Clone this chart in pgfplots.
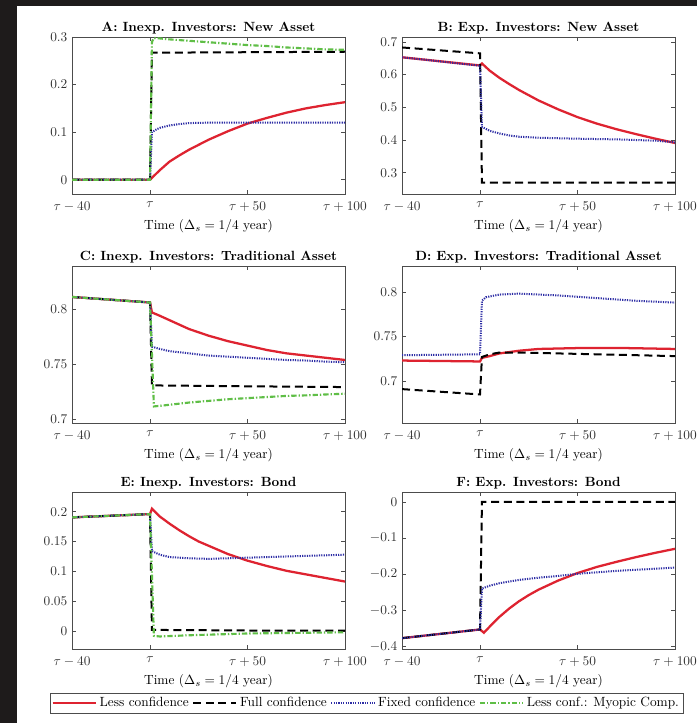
\documentclass[border=0pt]{standalone}
\usepackage{pgfplots}
\pgfplotsset{compat=1.18}

\definecolor{lessred}{RGB}{222,35,48}
\definecolor{fixblue}{RGB}{45,45,165}
\definecolor{myogreen}{RGB}{95,190,70}
\definecolor{frame}{RGB}{30,27,27}

\pgfplotsset{
  panel/.style={
    scale only axis, width=204.75pt, height=117.75pt,
    xmin=-40, xmax=100,
    xtick={-40,0,50,100},
    xticklabels={$\tau-40$,$\tau$,$\tau+50$,$\tau+100$},
    xlabel={Time ($\Delta_s=1/4$ year)},
    title style={font=\bfseries, yshift=-7pt},
    tick align=inside, tick pos=both, major tick length=3pt,
    axis line style={black!70}, every tick/.style={black!70},
    ticklabel style={text=black!80},
    xticklabel style={yshift=-2.5pt},
    yticklabel style={/pgf/number format/fixed, /pgf/number format/precision=2},
    xlabel style={yshift=1pt},
  },
  lc/.style={lessred, line width=1.7pt},
  fc/.style={black, line width=1.5pt, dash pattern=on 6pt off 3.5pt},
  xc/.style={fixblue, line width=1.5pt, dash pattern=on 0.9pt off 0.9pt},
  mc/.style={myogreen, line width=1.6pt, dash pattern=on 4pt off 1.5pt on 1pt off 1.5pt},
}

\begin{document}
\begin{tikzpicture}
\fill[white] (0,0) rectangle (522.75pt,-542.25pt);
\fill[frame] (0,0) rectangle (12.75pt,-542.25pt);
\fill[frame] (0,0) rectangle (522.75pt,-4.5pt);
\useasboundingbox (0,0) rectangle (522.75pt,-542.25pt);

% A
\begin{axis}[panel, at={(54pt,-27.75pt)}, anchor=north west,
  title={A: Inexp. Investors: New Asset},
  ymin=-0.03, ymax=0.3, ytick={0,0.1,0.2,0.3}]
\addplot[lc] coordinates {(-40,0) (0,0) (5,0.02) (10,0.038) (15,0.051) (20,0.063) (30,0.084) (40,0.102) (50,0.118) (60,0.13) (70,0.141) (80,0.15) (90,0.157) (100,0.163)};
\addplot[fc] coordinates {(-40,0) (0,0) (1,0.267) (50,0.268) (100,0.269)};
\addplot[xc] coordinates {(-40,0) (0,0) (1,0.1) (3,0.105) (5,0.109) (10,0.114) (15,0.117) (20,0.119) (30,0.12) (50,0.12) (70,0.12) (100,0.12)};
\addplot[mc] coordinates {(-40,0) (0,0) (1,0.29) (2,0.298) (5,0.297) (10,0.295) (20,0.292) (30,0.289) (40,0.286) (50,0.283) (60,0.281) (70,0.278) (80,0.276) (90,0.274) (100,0.273)};
\end{axis}

% B
\begin{axis}[panel, at={(301.5pt,-27.75pt)}, anchor=north west,
  title={B: Exp. Investors: New Asset},
  ymin=0.235, ymax=0.715, ytick={0.3,0.4,0.5,0.6,0.7}]
\addplot[lc] coordinates {(-40,0.653) (0,0.628) (1,0.634) (5,0.612) (10,0.59) (15,0.571) (20,0.553) (30,0.521) (40,0.494) (50,0.47) (60,0.45) (70,0.433) (80,0.418) (90,0.404) (100,0.391)};
\addplot[fc] coordinates {(-40,0.683) (0,0.665) (1,0.27) (50,0.27) (100,0.27)};
\addplot[xc] coordinates {(-40,0.653) (0,0.627) (1,0.44) (5,0.428) (10,0.42) (15,0.414) (20,0.41) (30,0.407) (50,0.404) (70,0.402) (90,0.398) (100,0.393)};
\end{axis}

% C
\begin{axis}[panel, at={(54pt,-199.5pt)}, anchor=north west,
  title={C: Inexp. Investors: Traditional Asset},
  ymin=0.697, ymax=0.839, ytick={0.7,0.75,0.8}]
\addplot[lc] coordinates {(-40,0.811) (0,0.806) (1,0.797) (5,0.794) (10,0.79) (15,0.786) (20,0.782) (25,0.779) (30,0.776) (40,0.771) (50,0.767) (60,0.763) (70,0.76) (80,0.758) (90,0.756) (100,0.754)};
\addplot[fc] coordinates {(-40,0.811) (0,0.806) (1,0.731) (50,0.7302) (100,0.7295)};
\addplot[xc] coordinates {(-40,0.811) (0,0.806) (1,0.766) (5,0.764) (10,0.762) (20,0.76) (30,0.758) (40,0.757) (50,0.756) (60,0.755) (70,0.754) (80,0.7535) (90,0.7525) (100,0.752)};
\addplot[mc] coordinates {(-40,0.811) (0,0.806) (2,0.712) (5,0.7125) (10,0.7135) (20,0.7155) (30,0.717) (40,0.7185) (50,0.7195) (60,0.7205) (70,0.7215) (80,0.722) (90,0.7228) (100,0.7235)};
\end{axis}

% D
\begin{axis}[panel, at={(301.5pt,-199.5pt)}, anchor=north west,
  title={D: Exp. Investors: Traditional Asset},
  ymin=0.653, ymax=0.829, ytick={0.7,0.75,0.8}]
\addplot[lc] coordinates {(-40,0.723) (0,0.722) (1,0.726) (5,0.728) (10,0.731) (20,0.734) (30,0.736) (50,0.737) (75,0.737) (100,0.736)};
\addplot[fc] coordinates {(-40,0.691) (0,0.685) (1,0.727) (5,0.73) (10,0.732) (20,0.732) (40,0.731) (60,0.73) (80,0.729) (100,0.728)};
\addplot[xc] coordinates {(-40,0.729) (0,0.73) (1,0.79) (3,0.794) (10,0.797) (20,0.798) (40,0.796) (60,0.793) (80,0.79) (100,0.788)};
\end{axis}

% E
\begin{axis}[panel, at={(54pt,-369pt)}, anchor=north west,
  title={E: Inexp. Investors: Bond},
  ymin=-0.03, ymax=0.233, ytick={0,0.05,0.1,0.15,0.2},
  legend columns=4,
  legend style={at={(1.0788,-0.345)}, anchor=center, draw=black!70,
    font=\normalsize, inner sep=1.2pt,
    /tikz/every even column/.append style={column sep=0.5pt}},
  legend image code/.code={\draw[#1] (0cm,0cm) -- (1.14cm,0cm);}]
\addplot[lc] coordinates {(-40,0.1905) (0,0.196) (1,0.205) (5,0.192) (10,0.18) (15,0.169) (20,0.159) (25,0.15) (30,0.143) (40,0.129) (50,0.118) (60,0.109) (70,0.101) (80,0.095) (90,0.089) (100,0.083)};
\addlegendentry{Less confidence}
\addplot[fc] coordinates {(-40,0.1905) (0,0.196) (1,0.002) (50,0.001) (100,0.001)};
\addlegendentry{Full confidence}
\addplot[xc] coordinates {(-40,0.1905) (0,0.196) (1,0.134) (5,0.128) (10,0.124) (20,0.122) (30,0.121) (40,0.122) (50,0.123) (60,0.124) (70,0.125) (80,0.126) (90,0.127) (100,0.128)};
\addlegendentry{Fixed confidence}
\addplot[mc] coordinates {(-40,0.1905) (0,0.196) (2,-0.008) (5,-0.009) (20,-0.007) (50,-0.004) (100,-0.002)};
\addlegendentry{Less conf.: Myopic Comp.}
\end{axis}

% F
\begin{axis}[panel, at={(301.5pt,-369pt)}, anchor=north west,
  title={F: Exp. Investors: Bond},
  ymin=-0.407, ymax=0.027, ytick={-0.4,-0.3,-0.2,-0.1,0}]
\addplot[lc] coordinates {(-40,-0.377) (0,-0.353) (2,-0.362) (5,-0.345) (10,-0.318) (15,-0.295) (20,-0.275) (25,-0.258) (30,-0.243) (40,-0.218) (50,-0.197) (60,-0.18) (70,-0.166) (80,-0.153) (90,-0.141) (100,-0.13)};
\addplot[fc] coordinates {(-40,-0.377) (0,-0.353) (1,0) (50,0) (100,0)};
\addplot[xc] coordinates {(-40,-0.377) (0,-0.353) (1,-0.24) (5,-0.232) (10,-0.225) (20,-0.216) (30,-0.21) (40,-0.205) (50,-0.199) (60,-0.195) (70,-0.191) (80,-0.188) (90,-0.185) (100,-0.182)};
\end{axis}
\end{tikzpicture}
\end{document}
